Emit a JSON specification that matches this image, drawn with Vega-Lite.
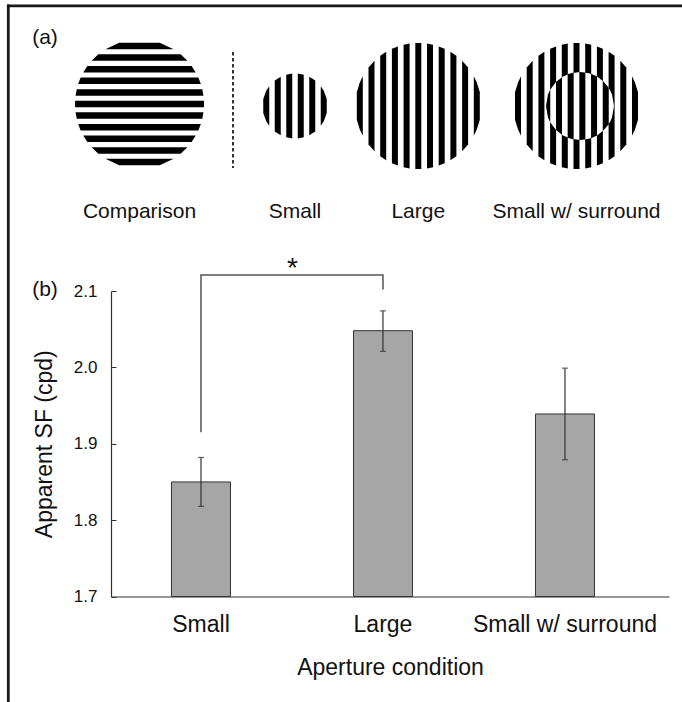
{
  "$schema": "https://vega.github.io/schema/vega-lite/v6.json",
  "width": 558,
  "height": 305.5,
  "autosize": {"type": "none"},
  "padding": {"left": 111, "top": 291, "right": 13, "bottom": 105.5},
  "background": "white",
  "config": {
    "view": {"stroke": null},
    "font": "Liberation Sans",
    "axis": {"domainColor": "#333333", "domainWidth": 1.2, "tickColor": "#333333", "labelColor": "#111111", "titleColor": "#111111", "titleFontWeight": "normal", "grid": false, "labelLimit": 400}
  },
  "datasets": {
    "bars": [
      {"cond": "Small", "mean": 1.85, "lo": 1.818, "hi": 1.882},
      {"cond": "Large", "mean": 2.048, "lo": 2.021, "hi": 2.074},
      {"cond": "Small w/ surround", "mean": 1.939, "lo": 1.879, "hi": 1.999}
    ],
    "bracket": [
      {"cond": "Small", "v": 1.915, "k": 1},
      {"cond": "Small", "v": 2.121, "k": 2},
      {"cond": "Large", "v": 2.121, "k": 3},
      {"cond": "Large", "v": 2.102, "k": 4}
    ],
    "frame": [
      {"fx": 8.3, "fx2": 8.3, "fy": 4.5, "fy2": 702},
      {"fx": 7, "fx2": 682, "fy": 5.8, "fy2": 5.8}
    ],
    "separator": [{"fx": 233, "fy": 52, "fy2": 168}],
    "hgrating": [
      {"id": "c-5", "fy": 42.75, "xl": 119.28, "xr": 159.72}, {"id": "c-5", "fy": 49.25, "xl": 105.4, "xr": 173.6},
      {"id": "c-4", "fy": 54.35, "xl": 98.33, "xr": 180.67}, {"id": "c-4", "fy": 60.85, "xl": 91.56, "xr": 187.44},
      {"id": "c-3", "fy": 65.95, "xl": 87.42, "xr": 191.58}, {"id": "c-3", "fy": 72.45, "xl": 83.24, "xr": 195.76},
      {"id": "c-2", "fy": 77.55, "xl": 80.67, "xr": 198.33}, {"id": "c-2", "fy": 84.05, "xl": 78.16, "xr": 200.84},
      {"id": "c-1", "fy": 89.15, "xl": 76.73, "xr": 202.27}, {"id": "c-1", "fy": 95.65, "xl": 75.54, "xr": 203.46},
      {"id": "c0", "fy": 100.75, "xl": 75.08, "xr": 203.92}, {"id": "c0", "fy": 104, "xl": 75.0, "xr": 204.0}, {"id": "c0", "fy": 107.25, "xl": 75.08, "xr": 203.92},
      {"id": "c1", "fy": 112.35, "xl": 75.54, "xr": 203.46}, {"id": "c1", "fy": 118.85, "xl": 76.73, "xr": 202.27},
      {"id": "c2", "fy": 123.95, "xl": 78.16, "xr": 200.84}, {"id": "c2", "fy": 130.45, "xl": 80.67, "xr": 198.33},
      {"id": "c3", "fy": 135.55, "xl": 83.24, "xr": 195.76}, {"id": "c3", "fy": 142.05, "xl": 87.42, "xr": 191.58},
      {"id": "c4", "fy": 147.15, "xl": 91.56, "xr": 187.44}, {"id": "c4", "fy": 153.65, "xl": 98.33, "xr": 180.67},
      {"id": "c5", "fy": 158.75, "xl": 105.4, "xr": 173.6}, {"id": "c5", "fy": 165.25, "xl": 119.28, "xr": 159.72}
    ],
    "vgrating": [
      {"id": "s-3", "fx": 263.25, "top": 99.06, "bot": 112.94}, {"id": "s-3", "fx": 266.25, "top": 90.84, "bot": 121.16}, {"id": "s-3", "fx": 269.25, "top": 86.17, "bot": 125.83},
      {"id": "s-2", "fx": 274.75, "top": 80.58, "bot": 131.42}, {"id": "s-2", "fx": 280.75, "top": 76.79, "bot": 135.21},
      {"id": "s-1", "fx": 286.25, "top": 74.7, "bot": 137.3}, {"id": "s-1", "fx": 292.25, "top": 73.62, "bot": 138.38},
      {"id": "s0", "fx": 297.75, "top": 73.62, "bot": 138.38}, {"id": "s0", "fx": 303.75, "top": 74.7, "bot": 137.3},
      {"id": "s1", "fx": 309.25, "top": 76.79, "bot": 135.21}, {"id": "s1", "fx": 315.25, "top": 80.58, "bot": 131.42},
      {"id": "s2", "fx": 320.75, "top": 86.17, "bot": 125.83}, {"id": "s2", "fx": 323.75, "top": 90.84, "bot": 121.16}, {"id": "s2", "fx": 326.75, "top": 99.06, "bot": 112.94},

      {"id": "L-5", "fx": 356.8, "top": 92.33, "bot": 119.67}, {"id": "L-5", "fx": 359.8, "top": 82.62, "bot": 129.38}, {"id": "L-5", "fx": 362.8, "top": 76.19, "bot": 135.81},
      {"id": "L-4", "fx": 368.5, "top": 67.41, "bot": 144.59}, {"id": "L-4", "fx": 374.5, "top": 60.72, "bot": 151.28},
      {"id": "L-3", "fx": 380.2, "top": 55.83, "bot": 156.17}, {"id": "L-3", "fx": 386.2, "top": 51.79, "bot": 160.21},
      {"id": "L-2", "fx": 391.9, "top": 48.8, "bot": 163.2}, {"id": "L-2", "fx": 397.9, "top": 46.39, "bot": 165.61},
      {"id": "L-1", "fx": 403.6, "top": 44.74, "bot": 167.26}, {"id": "L-1", "fx": 409.6, "top": 43.6, "bot": 168.4},
      {"id": "L0", "fx": 415.3, "top": 43.07, "bot": 168.93}, {"id": "L0", "fx": 418.3, "top": 43.0, "bot": 169.0}, {"id": "L0", "fx": 421.3, "top": 43.07, "bot": 168.93},
      {"id": "L1", "fx": 427.0, "top": 43.6, "bot": 168.4}, {"id": "L1", "fx": 433.0, "top": 44.74, "bot": 167.26},
      {"id": "L2", "fx": 438.7, "top": 46.39, "bot": 165.61}, {"id": "L2", "fx": 444.7, "top": 48.8, "bot": 163.2},
      {"id": "L3", "fx": 450.4, "top": 51.79, "bot": 160.21}, {"id": "L3", "fx": 456.4, "top": 55.83, "bot": 156.17},
      {"id": "L4", "fx": 462.1, "top": 60.72, "bot": 151.28}, {"id": "L4", "fx": 468.1, "top": 67.41, "bot": 144.59},
      {"id": "L5", "fx": 473.8, "top": 76.19, "bot": 135.81}, {"id": "L5", "fx": 476.8, "top": 82.62, "bot": 129.38}, {"id": "L5", "fx": 479.8, "top": 92.33, "bot": 119.67},

      {"id": "S-5", "fx": 515.0, "top": 92.33, "bot": 119.67}, {"id": "S-5", "fx": 518.0, "top": 82.62, "bot": 129.38}, {"id": "S-5", "fx": 521.0, "top": 76.19, "bot": 135.81},
      {"id": "S-4", "fx": 526.7, "top": 67.41, "bot": 144.59}, {"id": "S-4", "fx": 532.7, "top": 60.72, "bot": 151.28},
      {"id": "S-3", "fx": 538.4, "top": 55.83, "bot": 156.17}, {"id": "S-3", "fx": 544.4, "top": 51.79, "bot": 160.21},
      {"id": "S-2", "fx": 550.1, "top": 48.8, "bot": 163.2}, {"id": "S-2", "fx": 556.1, "top": 46.39, "bot": 165.61},
      {"id": "S-1", "fx": 561.8, "top": 44.74, "bot": 167.26}, {"id": "S-1", "fx": 567.8, "top": 43.6, "bot": 168.4},
      {"id": "S0", "fx": 573.5, "top": 43.07, "bot": 168.93}, {"id": "S0", "fx": 576.5, "top": 43.0, "bot": 169.0}, {"id": "S0", "fx": 579.5, "top": 43.07, "bot": 168.93},
      {"id": "S1", "fx": 585.2, "top": 43.6, "bot": 168.4}, {"id": "S1", "fx": 591.2, "top": 44.74, "bot": 167.26},
      {"id": "S2", "fx": 596.9, "top": 46.39, "bot": 165.61}, {"id": "S2", "fx": 602.9, "top": 48.8, "bot": 163.2},
      {"id": "S3", "fx": 608.6, "top": 51.79, "bot": 160.21}, {"id": "S3", "fx": 614.6, "top": 55.83, "bot": 156.17},
      {"id": "S4", "fx": 620.3, "top": 60.72, "bot": 151.28}, {"id": "S4", "fx": 626.3, "top": 67.41, "bot": 144.59},
      {"id": "S5", "fx": 632.0, "top": 76.19, "bot": 135.81}, {"id": "S5", "fx": 635.0, "top": 82.62, "bot": 129.38}, {"id": "S5", "fx": 638.0, "top": 92.33, "bot": 119.67}
    ],
    "disk": [
      {"id": "d", "fx": 546, "top": 106, "bot": 106}, {"id": "d", "fx": 548, "top": 94.51, "bot": 117.49},
      {"id": "d", "fx": 550, "top": 90, "bot": 122}, {"id": "d", "fx": 556, "top": 81.92, "bot": 130.08},
      {"id": "d", "fx": 563, "top": 76.56, "bot": 135.44}, {"id": "d", "fx": 571, "top": 73.21, "bot": 138.79},
      {"id": "d", "fx": 580, "top": 72, "bot": 140}, {"id": "d", "fx": 589, "top": 73.21, "bot": 138.79},
      {"id": "d", "fx": 597, "top": 76.56, "bot": 135.44}, {"id": "d", "fx": 604, "top": 81.92, "bot": 130.08},
      {"id": "d", "fx": 610, "top": 90, "bot": 122}, {"id": "d", "fx": 612, "top": 94.51, "bot": 117.49},
      {"id": "d", "fx": 614, "top": 106, "bot": 106}
    ],
    "inner": [
      {"id": "i1", "fx": 546, "top": 106, "bot": 106}, {"id": "i1", "fx": 548, "top": 94.51, "bot": 117.49}, {"id": "i1", "fx": 550.25, "top": 89.54, "bot": 122.46},
      {"id": "i2", "fx": 556.0, "top": 81.92, "bot": 130.08}, {"id": "i2", "fx": 562.0, "top": 77.16, "bot": 134.84},
      {"id": "i3", "fx": 567.65, "top": 74.32, "bot": 137.68}, {"id": "i3", "fx": 573.65, "top": 72.6, "bot": 139.4},
      {"id": "i4", "fx": 579.35, "top": 72.01, "bot": 139.99}, {"id": "i4", "fx": 585.35, "top": 72.42, "bot": 139.58},
      {"id": "i5", "fx": 591.05, "top": 73.85, "bot": 138.15}, {"id": "i5", "fx": 597.05, "top": 76.58, "bot": 135.42},
      {"id": "i6", "fx": 602.75, "top": 80.73, "bot": 131.27}, {"id": "i6", "fx": 608.75, "top": 87.85, "bot": 124.15}
    ],
    "labels": [
      {"t": "(a)", "fx": 45, "fy": 44},
      {"t": "(b)", "fx": 45, "fy": 296},
      {"t": "Comparison", "fx": 139.5, "fy": 218},
      {"t": "Small", "fx": 295, "fy": 218},
      {"t": "Large", "fx": 418.3, "fy": 218},
      {"t": "Small w/ surround", "fx": 576.5, "fy": 218}
    ],
    "star": [{"t": "*", "fx": 292.5, "fy": 277}]
  },
  "layer": [
    {
      "layer": [
        {
          "data": {"name": "bars"},
          "mark": {"type": "bar", "fill": "#a6a6a6", "stroke": "#333333", "strokeWidth": 1},
          "encoding": {
            "x": {"field": "cond", "type": "nominal",
              "scale": {"domain": ["Small", "Large", "Small w/ surround"], "paddingInner": 0.676, "paddingOuter": 0.371, "align": 0.448},
              "axis": {"title": "Aperture condition", "labelAngle": 0, "ticks": false, "labelPadding": 17, "labelFontSize": 23, "titleFontSize": 23, "titlePadding": 20}},
            "y": {"field": "mean", "type": "quantitative",
              "scale": {"domain": [1.7, 2.1], "zero": false, "nice": false},
              "axis": {"title": "Apparent SF (cpd)", "values": [1.7, 1.8, 1.9, 2.0, 2.1], "format": ".1f", "tickSize": -5, "labelPadding": 19, "labelFontSize": 17, "titleFontSize": 23, "titlePadding": 17}},
            "y2": {"datum": 1.7}
          }
        },
        {
          "data": {"name": "bars"},
          "mark": {"type": "rule", "color": "#333333", "strokeWidth": 1.2},
          "encoding": {
            "x": {"field": "cond", "type": "nominal", "scale": {"domain": ["Small", "Large", "Small w/ surround"]}},
            "y": {"field": "lo", "type": "quantitative", "scale": {"domain": [1.7, 2.1], "zero": false, "nice": false}},
            "y2": {"field": "hi"}
          }
        },
        {
          "data": {"name": "bars"},
          "mark": {"type": "tick", "orient": "horizontal", "size": 6, "thickness": 1.3, "color": "#333333"},
          "encoding": {
            "x": {"field": "cond", "type": "nominal", "scale": {"domain": ["Small", "Large", "Small w/ surround"]}},
            "y": {"field": "lo", "type": "quantitative", "scale": {"domain": [1.7, 2.1], "zero": false, "nice": false}}
          }
        },
        {
          "data": {"name": "bars"},
          "mark": {"type": "tick", "orient": "horizontal", "size": 6, "thickness": 1.3, "color": "#333333"},
          "encoding": {
            "x": {"field": "cond", "type": "nominal", "scale": {"domain": ["Small", "Large", "Small w/ surround"]}},
            "y": {"field": "hi", "type": "quantitative", "scale": {"domain": [1.7, 2.1], "zero": false, "nice": false}}
          }
        },
        {
          "data": {"name": "bracket"},
          "mark": {"type": "line", "color": "#555555", "strokeWidth": 1.5, "interpolate": "linear"},
          "encoding": {
            "x": {"field": "cond", "type": "nominal", "scale": {"domain": ["Small", "Large", "Small w/ surround"]}},
            "y": {"field": "v", "type": "quantitative", "scale": {"domain": [1.7, 2.1], "zero": false, "nice": false}},
            "order": {"field": "k", "type": "quantitative"}
          }
        }
      ]
    },
    {
      "layer": [
        {
          "data": {"name": "frame"},
          "mark": {"type": "rule", "color": "#1a1a1a", "strokeWidth": 2.8},
          "encoding": {
            "x": {"field": "fx", "type": "quantitative", "scale": {"domain": [111, 669], "zero": false, "nice": false}, "axis": null},
            "x2": {"field": "fx2"},
            "y": {"field": "fy", "type": "quantitative", "scale": {"domain": [291, 596.5], "reverse": true, "zero": false, "nice": false}, "axis": null},
            "y2": {"field": "fy2"}
          }
        },
        {
          "data": {"name": "separator"},
          "mark": {"type": "rule", "color": "#333333", "strokeWidth": 2, "strokeDash": [3.5, 2.5]},
          "encoding": {
            "x": {"field": "fx", "type": "quantitative", "scale": {"domain": [111, 669], "zero": false, "nice": false}, "axis": null},
            "y": {"field": "fy", "type": "quantitative", "scale": {"domain": [291, 596.5], "reverse": true, "zero": false, "nice": false}, "axis": null},
            "y2": {"field": "fy2"}
          }
        },
        {
          "data": {"name": "hgrating"},
          "mark": {"type": "area", "orient": "horizontal", "color": "#000000"},
          "encoding": {
            "y": {"field": "fy", "type": "quantitative", "scale": {"domain": [291, 596.5], "reverse": true, "zero": false, "nice": false}, "axis": null},
            "x": {"field": "xl", "type": "quantitative", "scale": {"domain": [111, 669], "zero": false, "nice": false}, "axis": null},
            "x2": {"field": "xr"},
            "detail": {"field": "id", "type": "nominal"}
          }
        },
        {
          "data": {"name": "vgrating"},
          "mark": {"type": "area", "orient": "vertical", "color": "#000000"},
          "encoding": {
            "x": {"field": "fx", "type": "quantitative", "scale": {"domain": [111, 669], "zero": false, "nice": false}, "axis": null},
            "y": {"field": "top", "type": "quantitative", "scale": {"domain": [291, 596.5], "reverse": true, "zero": false, "nice": false}, "axis": null},
            "y2": {"field": "bot"},
            "detail": {"field": "id", "type": "nominal"}
          }
        },
        {
          "data": {"name": "disk"},
          "mark": {"type": "area", "orient": "vertical", "color": "#ffffff"},
          "encoding": {
            "x": {"field": "fx", "type": "quantitative", "scale": {"domain": [111, 669], "zero": false, "nice": false}, "axis": null},
            "y": {"field": "top", "type": "quantitative", "scale": {"domain": [291, 596.5], "reverse": true, "zero": false, "nice": false}, "axis": null},
            "y2": {"field": "bot"},
            "detail": {"field": "id", "type": "nominal"}
          }
        },
        {
          "data": {"name": "inner"},
          "mark": {"type": "area", "orient": "vertical", "color": "#000000"},
          "encoding": {
            "x": {"field": "fx", "type": "quantitative", "scale": {"domain": [111, 669], "zero": false, "nice": false}, "axis": null},
            "y": {"field": "top", "type": "quantitative", "scale": {"domain": [291, 596.5], "reverse": true, "zero": false, "nice": false}, "axis": null},
            "y2": {"field": "bot"},
            "detail": {"field": "id", "type": "nominal"}
          }
        },
        {
          "data": {"name": "labels"},
          "mark": {"type": "text", "align": "center", "baseline": "alphabetic", "fontSize": 21, "color": "#111111"},
          "encoding": {
            "x": {"field": "fx", "type": "quantitative", "scale": {"domain": [111, 669], "zero": false, "nice": false}, "axis": null},
            "y": {"field": "fy", "type": "quantitative", "scale": {"domain": [291, 596.5], "reverse": true, "zero": false, "nice": false}, "axis": null},
            "text": {"field": "t"}
          }
        },
        {
          "data": {"name": "star"},
          "mark": {"type": "text", "align": "center", "baseline": "alphabetic", "fontSize": 28, "color": "#111111"},
          "encoding": {
            "x": {"field": "fx", "type": "quantitative", "scale": {"domain": [111, 669], "zero": false, "nice": false}, "axis": null},
            "y": {"field": "fy", "type": "quantitative", "scale": {"domain": [291, 596.5], "reverse": true, "zero": false, "nice": false}, "axis": null},
            "text": {"field": "t"}
          }
        }
      ]
    }
  ],
  "resolve": {"scale": {"x": "independent", "y": "independent"}}
}
